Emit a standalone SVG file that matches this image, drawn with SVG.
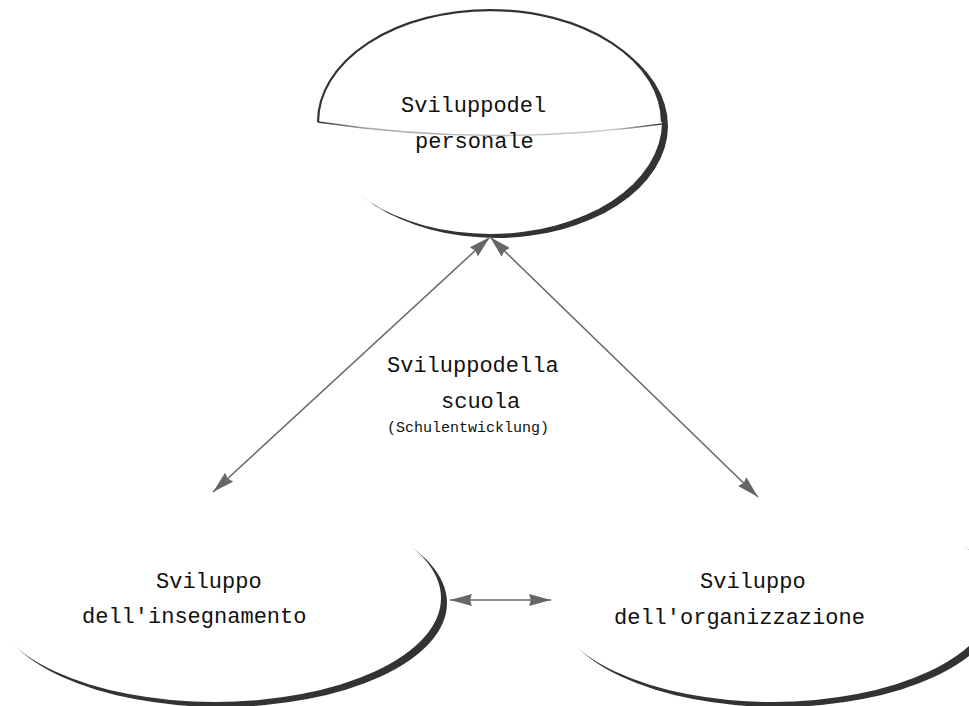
<svg xmlns="http://www.w3.org/2000/svg" width="969" height="706" viewBox="0 0 969 706">
<defs>
<style>
.shadow{fill:#333333;}
.body{fill:#ffffff;}
.outline{fill:none;stroke:#333333;stroke-width:2.2;}
.lbl{font-family:"Liberation Mono","Courier New",monospace;font-size:22px;fill:#111111;}
.small{font-family:"Liberation Mono","Courier New",monospace;font-size:15px;fill:#111111;}
.conn{stroke:#666666;stroke-width:1.5;fill:none;marker-start:url(#arr);marker-end:url(#arr);}
</style>
<marker id="arr" viewBox="0 0 22 12" refX="22" refY="6" markerWidth="22" markerHeight="12" markerUnits="userSpaceOnUse" orient="auto-start-reverse">
<path d="M0,0 L22,6 L0,12 L2,6 z" fill="#666666"/>
</marker>
<linearGradient id="lens" x1="0" y1="0" x2="1" y2="0">
<stop offset="0" stop-color="#333333"/>
<stop offset="0.15" stop-color="#aaaaaa"/>
<stop offset="0.85" stop-color="#cccccc"/>
<stop offset="1" stop-color="#444444"/>
</linearGradient>
</defs>
<g id="node-personale">
<ellipse class="shadow" cx="496" cy="126" rx="172" ry="112"/>
<ellipse class="body" cx="490" cy="122" rx="172" ry="112"/>
<path class="outline" d="M318,122 A172,112 0 0 1 662,122"/>
<path d="M662,124 Q490,148 318,122" fill="none" stroke="url(#lens)" stroke-width="1.5"/>
<text class="lbl" x="401" y="112">Sviluppodel</text>
<text class="lbl" x="415" y="148">personale</text>
</g>
<g id="node-insegnamento">
<ellipse class="shadow" cx="221" cy="603" rx="226" ry="104"/>
<ellipse class="body" cx="215" cy="598" rx="226" ry="104"/>
<text class="lbl" x="156" y="588">Sviluppo</text>
<text class="lbl" x="82" y="623">dell'insegnamento</text>
</g>
<g id="node-organizzazione">
<ellipse class="shadow" cx="778" cy="603" rx="222" ry="104"/>
<ellipse class="body" cx="772" cy="598" rx="222" ry="104"/>
<text class="lbl" x="700" y="588">Sviluppo</text>
<text class="lbl" x="614" y="624">dell'organizzazione</text>
</g>
<g id="label-scuola">
<text class="lbl" x="387" y="372">Sviluppodella</text>
<text class="lbl" x="441" y="408">scuola</text>
<text class="small" x="387" y="432">(Schulentwicklung)</text>
</g>
<g id="connectors">
<line class="conn" x1="213" y1="492" x2="490" y2="237"/>
<line class="conn" x1="490" y1="237" x2="758" y2="497"/>
<line class="conn" x1="450" y1="600" x2="551" y2="600"/>
</g>
</svg>
